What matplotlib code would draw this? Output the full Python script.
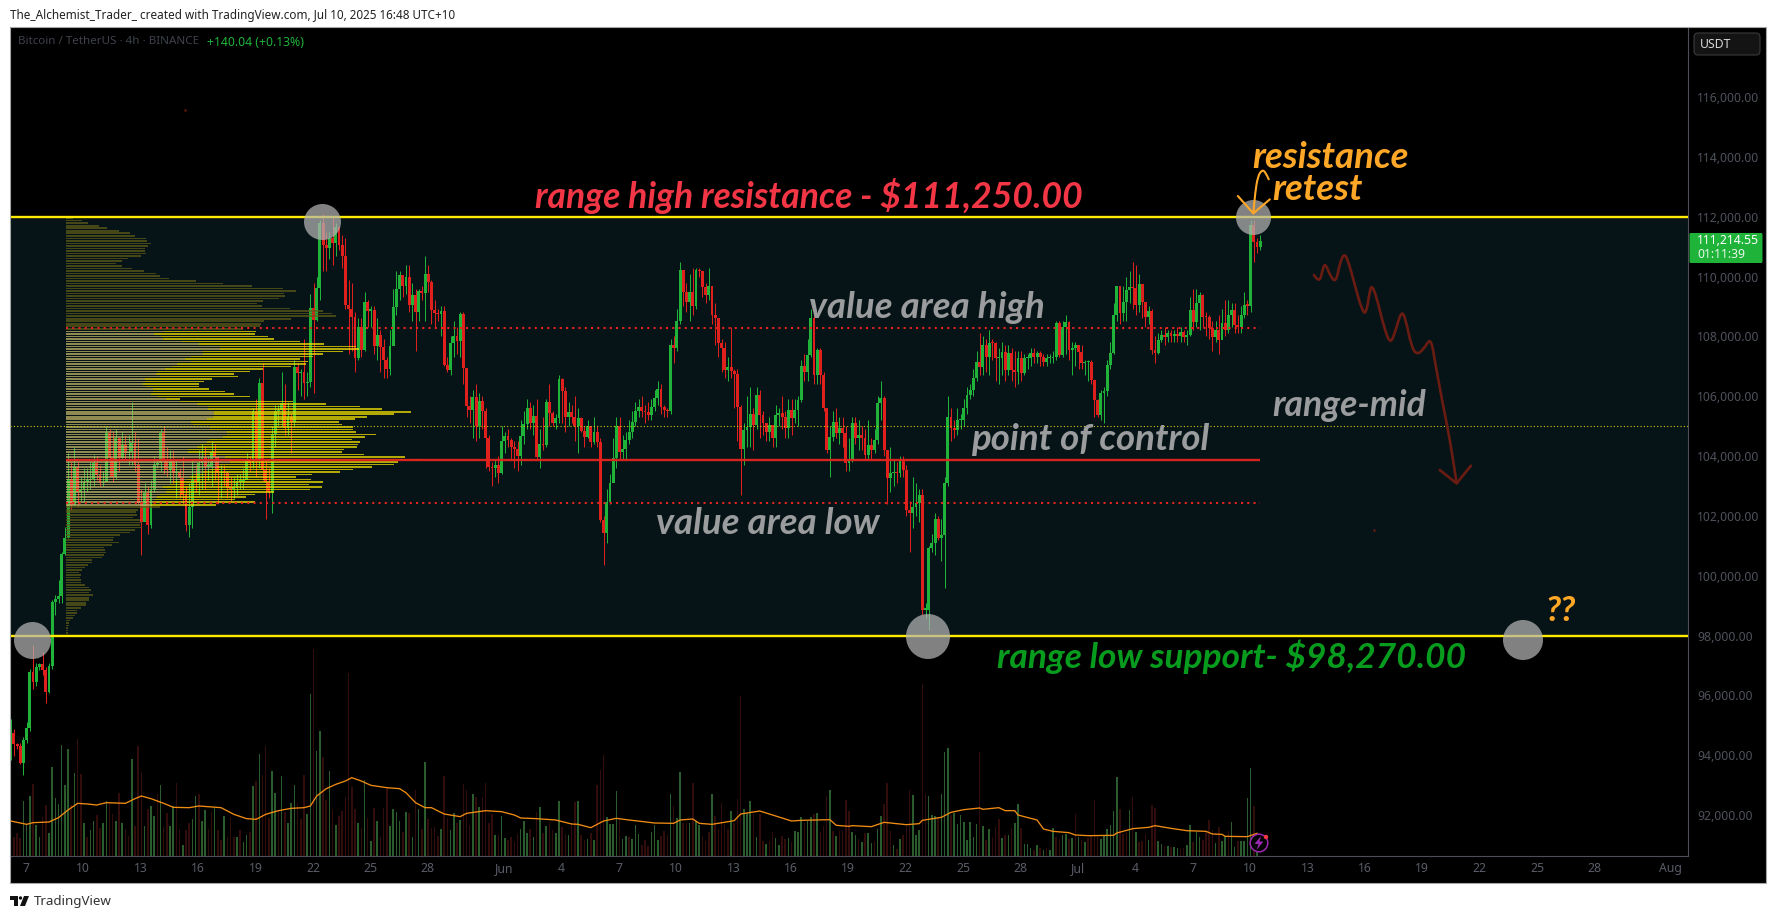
import matplotlib
matplotlib.use("Agg")
import matplotlib.pyplot as plt
import numpy as np
from matplotlib.patches import Ellipse, Rectangle, FancyBboxPatch, PathPatch, Polygon, Circle
from matplotlib.path import Path

# ---------- data (thousand USDT) ----------
open_first = 94.30
closes = [
94.75,94.38,94.30,93.75,94.50,94.90,96.80,96.46,96.96,97.04,
96.85,96.13,96.98,99.13,99.21,99.33,100.73,101.25,103.23,102.36,
103.63,102.81,102.87,103.15,103.20,103.23,103.76,103.37,103.09,103.15,
104.76,103.93,103.31,104.60,103.93,104.37,104.09,104.15,104.43,103.70,
102.42,101.81,102.76,101.70,102.87,103.70,103.76,104.76,103.82,103.54,
103.82,103.43,103.48,103.28,102.70,101.70,102.31,103.20,103.15,103.76,
103.98,103.65,103.65,104.15,103.98,103.43,103.48,103.43,102.92,102.90,
102.92,103.15,103.15,103.20,103.87,103.76,105.49,103.87,106.43,103.54,
103.15,102.81,104.74,105.49,105.54,105.77,104.93,105.32,105.15,106.99,
106.77,106.82,106.43,106.49,108.94,108.55,109.61,111.78,111.06,110.94,
111.28,111.11,111.67,111.06,110.67,109.05,108.90,108.66,107.27,108.33,
107.53,109.16,108.86,108.88,107.69,108.05,107.66,107.21,106.91,107.68,
108.97,109.59,110.05,109.68,109.98,109.05,109.38,108.83,109.53,109.44,
110.09,109.83,108.89,108.77,108.74,108.85,107.05,106.88,107.77,108.02,
107.83,108.74,106.96,105.68,105.54,105.97,104.99,105.84,105.49,104.60,
103.65,103.59,103.70,103.45,104.51,104.67,104.54,104.32,104.23,104.01,
104.67,105.06,105.60,105.09,105.34,103.98,104.39,104.37,105.82,105.43,
105.09,105.26,106.58,106.19,105.29,105.46,105.32,105.00,105.26,104.85,
104.65,104.99,104.48,104.80,104.48,101.87,101.44,102.48,103.09,103.93,
105.02,104.15,104.23,104.54,104.82,105.15,105.49,105.65,105.49,105.46,
105.38,105.65,105.93,106.23,105.65,105.54,105.49,107.72,107.60,108.50,
110.22,109.50,109.16,109.50,109.00,110.22,110.17,109.66,109.39,109.69,
108.72,108.60,107.77,107.60,106.88,106.99,106.86,106.73,105.63,104.23,
104.87,104.98,105.40,105.04,106.04,105.38,105.10,104.82,105.04,104.60,
105.38,105.43,105.32,104.93,105.54,105.26,105.54,105.88,107.01,106.82,
107.38,108.60,106.71,107.55,106.71,105.60,104.20,104.65,105.15,104.76,
104.93,104.76,103.76,103.87,105.10,104.60,104.71,104.60,104.04,104.37,
104.20,104.54,105.77,105.93,104.20,103.26,103.43,103.45,103.43,103.82,
103.54,102.20,102.09,102.31,102.42,102.70,98.86,98.86,100.92,101.09,
101.89,101.25,101.37,103.11,105.30,104.93,104.87,105.19,105.19,105.60,
106.04,106.21,106.60,107.16,106.99,107.71,107.32,107.79,107.77,107.27,
107.27,107.47,106.88,107.43,106.88,106.82,107.27,106.77,107.27,107.27,
107.43,107.32,107.43,107.32,107.16,107.27,107.27,107.32,108.44,107.38,
108.33,108.49,107.55,107.60,107.72,107.49,107.10,107.13,107.16,106.54,
105.87,105.38,106.10,106.16,107.05,107.43,108.72,109.67,108.77,109.16,
109.55,109.66,109.61,109.05,109.75,109.16,108.64,108.85,107.55,107.44,
107.88,108.05,107.99,108.10,108.02,108.08,108.02,108.13,107.99,108.05,
108.88,108.49,109.11,109.38,108.66,108.64,108.27,107.99,108.21,107.88,
108.44,108.21,108.72,108.88,108.38,108.33,108.72,109.05,109.03,111.72,
111.17,111.00,111.19]
highs = [
95.20,94.87,94.40,94.40,94.60,95.10,96.90,97.70,97.10,97.10,
97.44,96.95,97.10,99.20,99.36,99.86,100.80,101.64,104.09,103.80,
104.30,103.80,103.30,103.60,103.60,103.80,104.05,104.00,103.70,103.50,
105.00,104.90,104.80,104.90,104.60,104.80,104.70,104.70,105.80,104.80,
104.60,102.90,103.10,103.00,103.20,104.00,103.90,104.90,105.00,104.30,
104.20,104.20,103.90,103.60,104.00,103.00,103.10,103.90,103.70,104.20,
104.40,104.30,104.00,104.50,104.40,104.00,103.70,103.70,103.50,103.30,
103.30,103.40,103.40,103.60,104.10,104.00,105.60,105.90,106.60,107.10,
103.90,103.60,105.00,105.70,105.70,106.80,106.40,105.80,105.40,107.20,
107.10,106.90,107.90,106.80,109.40,109.80,110.00,111.90,112.10,111.50,
111.50,112.00,111.80,111.70,111.40,111.30,109.90,109.80,108.80,108.60,
108.60,109.50,109.20,109.00,109.00,108.60,108.20,107.90,107.30,108.20,
109.60,110.20,110.20,110.00,110.40,110.40,109.80,109.60,109.60,109.70,
110.70,110.40,109.90,109.20,108.90,109.00,109.00,107.30,108.00,108.50,
108.30,108.80,108.80,106.90,106.00,106.20,106.40,106.10,106.00,105.60,
104.70,103.80,103.90,104.00,105.00,104.80,104.90,104.60,104.50,104.50,
105.20,105.50,105.90,105.80,105.70,105.90,104.90,105.30,105.90,106.40,
105.50,105.40,106.70,106.60,106.30,105.80,105.70,106.00,105.60,105.30,
105.00,105.20,104.90,105.30,105.00,104.60,102.00,102.90,103.40,104.60,
105.30,105.30,104.70,104.80,105.20,105.50,105.80,105.90,106.00,105.70,
105.80,105.90,106.20,106.50,106.40,105.70,105.60,107.90,108.00,108.90,
110.50,110.20,109.80,110.10,110.30,110.30,110.30,110.20,109.80,110.30,
109.70,109.10,108.30,107.90,107.80,107.30,108.30,106.90,106.90,105.70,
105.10,106.00,106.30,105.60,106.30,106.20,105.50,105.10,105.30,105.00,
105.70,105.60,106.00,105.50,105.90,105.90,105.90,106.00,107.20,107.40,
107.90,108.90,108.70,107.60,107.60,106.80,105.60,105.00,105.50,105.60,
105.30,105.30,105.00,104.60,105.30,105.30,105.20,105.00,104.90,105.20,
104.60,104.90,106.00,106.50,106.00,104.20,104.30,103.90,103.80,104.00,
104.00,103.70,102.50,103.30,103.10,102.90,102.90,99.10,101.00,101.40,
102.10,102.00,101.90,103.30,106.00,105.60,105.20,105.60,105.40,105.90,
106.30,106.40,106.90,107.50,108.10,108.00,107.90,108.20,107.90,107.80,
107.60,107.80,107.70,107.70,107.60,107.50,107.50,107.50,107.40,107.40,
107.60,107.60,107.50,107.50,107.40,107.40,107.40,107.50,108.50,108.50,
108.50,108.70,108.50,107.80,107.80,107.70,107.70,107.20,107.20,107.20,
106.50,105.90,106.20,106.30,107.20,107.80,109.10,109.70,109.70,109.70,
110.00,110.20,110.47,110.40,110.10,109.70,109.00,109.00,108.90,108.00,
108.10,108.20,108.30,108.20,108.20,108.20,108.30,108.30,108.20,108.20,
109.30,109.60,109.60,109.50,109.40,108.80,108.70,108.50,108.50,108.70,
108.90,109.20,109.20,109.10,109.10,108.70,109.00,109.50,109.20,111.90,
111.90,111.30,111.40]
lows = [
93.85,93.98,94.20,93.70,93.35,94.40,94.80,96.20,96.30,96.85,
96.70,95.76,96.07,96.90,98.69,99.08,99.08,100.70,101.25,102.20,
102.36,102.30,102.50,102.45,102.80,102.90,103.00,103.20,103.00,103.00,
103.20,103.30,103.15,103.25,103.50,103.90,103.90,103.70,103.70,103.50,
102.40,100.70,101.90,101.40,101.60,102.80,103.60,103.50,103.40,103.30,
103.10,103.10,102.60,102.60,102.40,101.50,101.30,101.60,102.80,102.70,
102.90,102.90,103.20,103.00,103.20,102.40,102.60,103.00,102.60,102.50,
102.60,102.70,102.90,102.90,103.30,103.50,103.60,103.30,103.60,103.20,
101.90,102.60,102.10,104.30,105.00,105.00,104.70,104.70,104.10,105.00,
106.20,106.00,105.90,106.00,106.30,106.10,108.50,109.20,110.20,110.20,
110.60,110.40,110.70,110.90,110.30,108.90,107.40,107.50,106.80,107.20,
107.30,107.50,108.30,108.30,107.40,107.20,106.80,106.60,106.60,106.70,
107.70,108.70,109.20,109.30,109.40,108.80,108.50,107.50,108.50,109.20,
108.50,109.50,108.40,108.30,108.50,108.00,107.00,106.80,106.70,107.30,
107.40,107.30,106.40,105.30,105.10,104.60,104.50,104.60,104.90,103.60,
103.50,103.00,103.30,103.10,103.40,104.10,104.30,103.90,103.60,103.50,
103.70,104.40,104.90,104.90,104.70,103.90,103.60,104.20,104.30,105.00,
105.00,104.90,105.10,105.10,104.80,105.00,105.10,104.50,104.10,104.80,
104.30,104.60,104.30,104.40,104.30,101.80,100.36,101.10,102.40,103.50,
103.60,103.90,103.90,103.90,104.40,104.60,105.00,105.30,105.30,105.10,
105.20,105.20,105.50,105.70,105.40,105.30,105.30,105.40,107.10,107.50,
108.40,109.00,108.80,108.50,108.70,108.90,110.00,109.30,109.10,109.20,
108.40,107.70,107.30,106.80,106.60,106.50,106.60,105.60,104.50,102.70,
103.70,104.30,104.30,104.20,104.90,104.60,104.70,104.50,104.50,104.30,
104.30,105.00,104.90,104.60,104.60,104.70,105.10,105.00,105.80,106.50,
106.50,107.30,106.40,106.40,106.40,105.50,104.10,103.30,104.50,104.60,
104.40,104.30,103.50,103.50,103.80,104.40,104.20,104.20,103.90,103.90,
103.90,104.10,104.40,105.20,104.00,102.40,102.80,103.00,103.10,103.30,
103.30,102.00,100.80,101.60,102.00,101.80,98.70,98.60,98.20,100.80,
100.70,101.20,100.50,99.60,103.00,104.50,104.60,104.70,104.90,105.00,
105.40,105.90,106.00,106.50,106.70,106.70,106.80,106.70,107.20,106.50,
106.40,106.70,106.50,106.70,106.50,106.30,106.40,106.50,106.70,106.90,
107.00,107.10,107.10,107.00,107.00,107.00,107.10,107.10,107.20,107.30,
107.30,107.40,107.20,106.70,107.00,106.90,106.90,106.70,106.50,106.40,
105.30,105.30,105.20,105.10,106.00,106.90,107.40,108.50,108.40,108.50,
108.50,109.10,108.90,108.70,108.80,108.60,108.30,108.40,107.40,107.10,
107.40,107.80,107.70,107.80,107.80,107.80,107.80,107.80,107.80,107.70,
108.00,108.20,108.30,108.20,108.30,108.00,107.90,107.50,107.80,107.40,
107.90,108.00,108.10,108.30,108.10,108.10,108.10,108.60,108.70,108.80,
110.50,110.80,110.90]

# signed volume: + for up bars, - for down bars (arbitrary units)
volume_signed = [
-68,-58,-70,-55,165,95,180,-216,93,58,-118,-153,70,268,174,156,332,213,321,-153,
249,-351,-246,100,-58,78,105,-123,-85,100,165,-158,-126,105,-188,100,-81,-60,291,-90,
-330,-253,90,-141,150,120,-186,213,-88,-130,90,150,-218,-81,33,-78,-100,111,180,-186,
105,138,-81,-131,145,-78,-48,120,-58,-116,-58,58,-78,42,63,-73,210,-226,306,-243,
-330,-115,255,189,-138,240,-131,100,159,213,-159,-111,-243,126,486,-621,315,375,-298,-168,
255,-138,93,-120,-135,-178,-550,-207,-140,100,-83,228,-114,45,-143,105,-58,-145,-205,90,
141,132,105,-73,131,-128,58,-198,141,-81,282,-112,
-85,-87,-60,80,-240,-115,78,128,-100,108,-215,-197,-92,185,-177,146,-176,-218,-98,-125,
62,-62,120,53,-48,-56,-42,-65,80,105,68,-80,58,-132,147,-68,90,-102,-78,70,
165,-87,-65,62,-95,-162,165,-62,-48,50,-68,48,-212,-258,-302,116,96,96,195,-110,
50,60,-56,50,93,65,-33,-47,-30,72,93,47,-60,-76,-62,186,-150,114,252,-100,
-100,100,-218,105,93,-60,-45,-72,186,-120,-80,-160,-95,-80,135,-100,-170,-480,141,130,
165,-125,57,-125,-45,36,-45,-72,54,33,-60,-50,54,-42,75,72,116,-100,105,116,
-125,128,-72,-90,-180,198,-75,60,-75,-78,-168,-135,
72,63,-50,42,-68,69,38,-45,81,120,-156,-218,-75,33,-22,50,-62,-90,-198,183,
63,78,-516,-186,180,122,120,-115,186,312,324,-122,130,96,122,102,48,102,57,96,
-312,90,-48,81,-58,-86,-110,54,-64,62,-84,100,156,-84,36,36,24,-18,33,-24,
18,-24,18,84,-56,-50,63,66,-50,54,-126,57,-48,42,-54,-60,-168,-60,50,60,
80,93,135,237,-142,-66,-72,138,-176,72,-42,-45,-66,48,-153,-144,45,36,-30,30,
-27,27,24,-21,-24,33,92,-42,72,57,-48,-75,-108,-78,39,-87,45,60,-75,102,
27,-45,45,45,174,264,-150,60,
]
ma_bar = [0,5,7,12,15,18,21,24,27,30,36,39,41,44,48,51,56,59,66,70,74,77,80,84,88,92,94,96,99,102,105,107,110,113,118,122,124,127,130,132,
136,141,143,149,154,158,160,165,171,176,178,182,186,190,194,202,208,210,214,216,220,227,229,235,238,245,248,257,259,263,
264,270,274,281,285,286,292,295,299,304,305,310,312,315,316,322,324,327,332,334,338,346,347,352,357,359,364,369,375,377,380,381,388,391]
ma_val = [105,95,100,102,115,138,158,156,153,160,158,172,180,172,158,146,145,150,145,125,112,110,125,136,143,145,150,180,202,215,225,235,225,212,205,202,190,160,145,145,
126,118,128,136,133,123,114,112,108,96,95,85,105,113,108,99,98,108,111,98,95,106,126,135,126,105,107,109,92,89,
91,88,101,94,97,107,116,131,139,144,140,145,136,136,123,108,81,74,70,63,61,62,69,82,86,91,83,76,74,66,65,59,58,68]

# volume profile, top to bottom: row totals and (inside the value area) the up part
vp_upper = [20,47,66,99,122,159,192,207,240,242,254,246,237,237,240,225,186,168,150,168,198,234,270,282,309,390,472,558,651,690,654,657,639,591,573,588,672,771,798,810,675,594,585,582,531]
vp_value = [570,567,606,624,702,774,870,879,831,771,741,702,726,720,675,591,552,504,516,438,414,399,399,429,477,504,552,342,680,780,882,948,1035,984,903,867,819,828,861,861,870,930,897,858,882,876,873,834,828,894,1017,1068,996,984,918,861,822,738,690,735,771,729,768,732,624,567,540,507,566,449]
vp_value_up = [294,264,285,291,348,399,462,462,412,412,375,357,375,332,317,297,273,270,282,237,237,231,240,261,261,255,273,300,342,392,426,426,444,444,442,422,375,380,432,432,482,482,472,432,422,402,392,367,367,412,477,512,492,462,452,432,412,382,372,362,322,312,292,302,300,282,272,267,262,255]
vp_lower = [282,216,210,214,202,222,227,222,227,208,193,163,145,142,158,139,115,117,121,113,107,78,78,67,57,48,38,44,41,44,44,57,69,76,69,82,70,70,61,61,44,32,34,28,21,11,9,9,7,7,7]
vp_top_price = 111.95
vp_row_step = 0.084

range_high, range_low = 112.0, 98.0
range_mid, vah, poc, val_ = 105.02, 108.29, 103.87, 102.44
price_ticks = list(range(92, 118, 2))
day_ticks = [0,3,6,9,12,15,18,21,25,28,31,34,37,40,43,46,49,52,55,58,61,64,67,70,73,76,79,82,86]
day_labels = ['7','10','13','16','19','22','25','28','Jun','4','7','10','13','16','19','22','25','28','Jul','4','7','10','13','16','19','22','25','28','Aug']

# ---------- layout (pixels) ----------
W, H = 1776, 919
L, R, T, B = 10, 1688, 27, 856
px_per_day = 19.125
x0_px = 26.0
y112 = 216.7
usd_k_per_px = 0.03342
first_bar_day = (10.7 - x0_px) / px_per_day
GREEN, RED = '#1fb33a', '#e0201c'
plt.rcParams['font.family'] = ['Noto Sans', 'DejaVu Sans']

fig = plt.figure(figsize=(W/100, H/100), dpi=100, facecolor='white')
rect = [L/W, 1-B/H, (R-L)/W, (B-T)/H]
xlim = ((L-x0_px)/px_per_day, (R-x0_px)/px_per_day)
ylim = (112-(B-y112)*usd_k_per_px, 112+(y112-T)*usd_k_per_px)

# black panel behind everything
bg = fig.add_axes([0, 0, 1, 1], zorder=0, facecolor='none')
bg.set_xlim(0, W); bg.set_ylim(H, 0); bg.axis('off')
bg.add_patch(Rectangle((10, 27), 1756, 856, fc='black', ec='none'))

# volume (back)
axv = fig.add_axes(rect, zorder=1, facecolor='none')
vs = np.array(volume_signed, float)
xv = first_bar_day + np.arange(len(vs))/6
axv.bar(xv, np.abs(vs), width=0.08, color=['#2a5c2e' if v > 0 else '#330c0c' for v in vs], linewidth=0)
axv.plot(first_bar_day+np.array(ma_bar)/6, ma_val, color='#f08c14', lw=0.95, solid_joinstyle='round')
axv.set_xlim(xlim); axv.set_ylim(0, (B-T)*3); axv.axis('off')

# candles
ax = fig.add_axes(rect, zorder=2, facecolor='none')
c = np.array(closes); o = np.r_[open_first, c[:-1]]
hi, lo = np.array(highs), np.array(lows)
xs = first_bar_day + np.arange(len(c))/6
col = [GREEN if a >= b else RED for a, b in zip(c, o)]
ax.axhspan(range_low, range_high, color='#071417', lw=0, zorder=0)
ax.vlines(xs, lo, hi, colors=col, lw=0.72, zorder=2)
ax.bar(xs, np.maximum(np.abs(c-o), 0.05), bottom=np.minimum(c, o), width=0.15, color=col, linewidth=0, zorder=3)
ax.set_xlim(xlim); ax.set_ylim(ylim)
ax.yaxis.tick_right()
ax.set_yticks(price_ticks); ax.set_yticklabels([f'{v*1000:,.2f}' for v in price_ticks])
ax.set_xticks(day_ticks); ax.set_xticklabels(day_labels)
ax.tick_params(axis='y', length=0, pad=6.5, labelsize=8.8, labelcolor='#4f525c')
ax.tick_params(axis='x', length=0, pad=4.5, labelsize=8.8, labelcolor='#5a5d68')
for s in ax.spines.values():
    s.set_visible(False)
ax.spines['right'].set_visible(True); ax.spines['right'].set_color('#4e4e5a'); ax.spines['right'].set_linewidth(0.8)
ax.spines['bottom'].set_visible(True); ax.spines['bottom'].set_color('#4e4e5a'); ax.spines['bottom'].set_linewidth(0.8)

# volume profile and levels
axp = fig.add_axes(rect, zorder=3, facecolor='none')
vp0_px = 66
axp.set_xlim((L-vp0_px)*3, (R-vp0_px)*3); axp.set_ylim(ylim); axp.axis('off')
totals = vp_upper + vp_value + vp_lower
ys = vp_top_price - np.arange(len(totals))*vp_row_step
n_up = len(vp_upper); n_val = len(vp_value)
for k, (t, y) in enumerate(zip(totals, ys)):
    if n_up <= k < n_up+n_val:
        u = vp_value_up[k-n_up]
        axp.barh(y, u, height=0.052, color='#c4b868', alpha=0.72, linewidth=0)
        axp.barh(y, t-u, left=u, height=0.052, color='#f5e300', alpha=0.72, linewidth=0)
    else:
        axp.barh(y, t, height=0.052, color='#5f5c18', alpha=0.72, linewidth=0)
end_line = (xs[-1]*px_per_day + x0_px - vp0_px)*3
axp.hlines(vah, 0, end_line, color='#e3241f', lw=1.5, linestyles=[(0, (1, 2))])
axp.hlines(val_, 0, end_line, color='#e3241f', lw=1.5, linestyles=[(0, (1, 2))])
axp.hlines(poc, 0, end_line, color='#e3241f', lw=1.7, alpha=0.95)
axp.axhline(range_mid, color='#d0cc14', lw=0.8, linestyle=(0, (1, 2)))
axp.axhline(range_high, color='#ffea00', lw=1.7)
axp.axhline(range_low, color='#ffea00', lw=1.7)

# annotation layer in pixels
an = fig.add_axes([0, 0, 1, 1], zorder=4, facecolor='none')
an.set_xlim(0, W); an.set_ylim(H, 0); an.axis('off')
an.add_patch(Rectangle((10, 27), 1756, 856, fill=False, ec='#a6a6a6', lw=0.8))
for cx, cy, rx, ry in [(322.5, 222, 18.5, 18), (32.5, 640.5, 18.5, 18.5), (928, 636.5, 22, 22.5), (1253.5, 217.5, 17.5, 17.5), (1523, 640, 20, 20)]:
    an.add_patch(Ellipse((cx, cy), 2*rx, 2*ry, fc='#b4b4b4', ec='none', alpha=0.72))

def smooth(pts):
    v = [pts[0]]; codes = [Path.MOVETO]
    for a, b in zip(pts[1:-1], pts[2:]):
        v += [a, ((a[0]+b[0])/2, (a[1]+b[1])/2)]; codes += [Path.CURVE3, Path.CURVE3]
    v.append(pts[-1]); codes.append(Path.LINETO)
    return Path(v, codes)

def conv(zs):
    return [(1200+x/2.72, 120+y/3) for x, y in zs]

fall = conv([(310,465),(325,492),(335,440),(342,432),(355,470),(370,487),(380,430),(393,398),(405,430),(420,490),(440,570),(452,583),(462,510),(468,497),(480,530),(500,620),(517,672),(530,640),(548,570),(560,600),(575,680),(590,705),(610,685),(628,652),(640,730),(660,850),(680,960),(698,1090)])
an.add_patch(PathPatch(smooth(fall), fill=False, ec='#6a1c13', lw=1.9, capstyle='round'))
h = conv([(652,1050),(698,1090),(737,1037)])
an.plot(*zip(*h), color='#6a1c13', lw=1.9, solid_capstyle='round')
curl = conv([(187,178),(178,155),(168,150),(157,170),(150,220),(145,280)])
an.add_patch(PathPatch(smooth(curl), fill=False, ec='#ffa726', lw=1.5, capstyle='round'))
h2 = conv([(103,228),(145,280),(190,238)])
an.plot(*zip(*h2), color='#ffa726', lw=1.5, solid_capstyle='round')
an.plot([185, 1374], [110, 530], ls='none', marker='s', ms=1.4, color='#8c1a14', mec='none')

def label(x, y, s, color, size, ha='left'):
    an.text(x, y, s, color=color, fontsize=size, ha=ha, va='center', family='Lato', weight='bold', style='italic')

label(535, 196, 'range high resistance - $111,250.00', '#f23645', 25.6)
label(809, 308, 'value area high', '#9a9c9e', 26.4)
label(971, 440, 'point of control', '#9a9c9e', 26.4)
label(656, 523, 'value area low', '#9a9c9e', 26.4)
label(1272, 406, 'range-mid', '#9a9c9e', 25.6)
label(1252, 157, 'resistance', '#ffa726', 26.4)
label(1272, 190, 'retest', '#ffa726', 26.4)
label(997, 657, 'range low support- $98,270.00', '#089c1e', 25.4)
label(1545, 611, '??', '#ffa726', 25.4)

# header / footer
an.text(10, 15, 'The_Alchemist_Trader_ created with TradingView.com, Jul 10, 2025 16:48 UTC+10', color='#222222', fontsize=8.45, va='center', family='Noto Sans')
an.text(18, 42, 'Bitcoin / TetherUS · 4h · BINANCE', color='#3f424c', fontsize=8.35, va='center')
an.text(207, 42, '+140.04 (+0.13%)', color='#1fb33a', fontsize=8.8, va='center')
an.text(33.5, 902, 'TradingView', color='#333333', fontsize=9.6, va='center')
an.add_patch(Polygon([(10, 896), (18, 896), (18, 906), (14, 906), (14, 899.5), (10, 899.5)], fc='#111111', ec='none'))
an.add_patch(Circle((20.5, 898), 1.7, fc='#111111', ec='none'))
an.add_patch(Polygon([(24, 896), (29, 896), (25, 906), (20, 906)], fc='#111111', ec='none'))

# price scale widgets
an.add_patch(FancyBboxPatch((1694, 33), 66, 22, boxstyle='round,pad=0,rounding_size=4', fc='#141414', ec='#3a3a3a', lw=0.8))
an.text(1700, 44.5, 'USDT', color='#d8d8d8', fontsize=8.8, va='center')
an.add_patch(FancyBboxPatch((1689.5, 233), 73, 30, boxstyle='round,pad=0,rounding_size=1.5', fc='#1fb33a', ec='none'))
an.text(1697, 241, '111,214.55', color='white', fontsize=8.8, va='center', weight='bold')
an.text(1697, 255, '01:11:39', color='#e8f7ea', fontsize=8.8, va='center')

# flash icon
an.add_patch(Circle((1259, 843), 8.8, fc='black', ec='#9c27b0', lw=1.1))
an.add_patch(Polygon([(1261, 836), (1254.5, 844), (1258.5, 844), (1256.5, 850), (1263.5, 841.5), (1259.5, 841.5)], fc='#9c27b0', ec='none'))
an.add_patch(Circle((1266, 837), 2.2, fc='#f23645', ec='none'))

fig.savefig('out.png', dpi=100, facecolor='white')
